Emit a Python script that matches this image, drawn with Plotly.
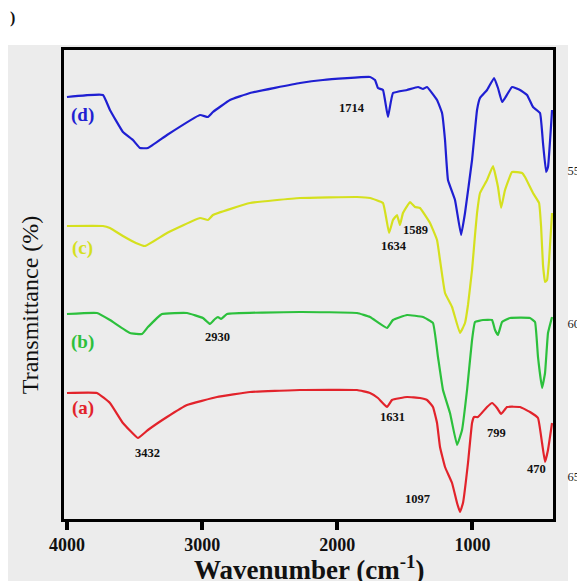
import plotly.graph_objects as go

# ---- data (transmittance in arbitrary offset units) ----
wn_d = [4000, 3734, 3682, 3586, 3512, 3460, 3401, 3260, 3016, 2957, 2920, 2794, 2646, 2276, 2106,
        1758, 1721, 1699, 1662, 1625, 1588, 1484, 1403, 1366, 1336, 1262, 1225, 1203, 1181, 1129,
        1084, 1055, 1003, 966, 944, 892, 840, 811, 781, 759, 707, 648, 596, 552, 500, 478, 455, 441, 411]
t_d = [84.4, 84.8, 81.8, 77.4, 75.8, 74.2, 74.2, 76.8, 80.8, 80.4, 81.4, 83.8, 85.2, 87.2, 87.8,
       88.4, 87.8, 86.2, 85.8, 80.4, 85.2, 85.8, 86.4, 86.0, 86.4, 83.8, 81.2, 75.8, 67.8, 63.8,
       56.8, 61.2, 71.8, 81.8, 84.2, 85.8, 88.2, 86.2, 83.4, 84.2, 86.4, 85.8, 84.8, 82.4, 81.2, 75.2, 69.4, 70.4, 81.8]

wn_c = [4000, 3734, 3682, 3586, 3490, 3423, 3260, 3016, 2957, 2920, 2646, 2276, 1854, 1758, 1662,
        1617, 1588, 1558, 1536, 1514, 1462, 1425, 1388, 1314, 1262, 1240, 1203, 1151, 1092, 1055,
        1033, 1003, 981, 966, 944, 892, 848, 811, 788, 759, 707, 633, 611, 552, 507, 492, 478, 463, 448, 433, 411]
t_c = [58.6, 58.6, 58.2, 56.6, 55.2, 54.6, 57.2, 60.2, 59.8, 60.8, 63.2, 64.2, 64.4, 64.2, 63.2,
       57.2, 59.8, 60.8, 58.8, 61.2, 63.4, 62.4, 62.2, 59.2, 55.8, 51.8, 45.2, 42.4, 37.2, 39.2,
       42.8, 49.8, 56.8, 61.2, 65.2, 67.8, 70.6, 66.4, 62.2, 65.8, 69.4, 69.2, 68.4, 65.2, 63.2, 58.4, 50.8, 47.4, 47.8, 51.8, 61.2]

wn_b = [4000, 3778, 3682, 3534, 3445, 3401, 3297, 3112, 2994, 2942, 2905, 2883, 2860, 2816, 2276,
        1854, 1758, 1632, 1588, 1484, 1366, 1292, 1255, 1218, 1166, 1114, 1077, 1040, 1003, 981,
        922, 855, 833, 811, 781, 722, 574, 537, 515, 485, 463, 441, 411]
t_b = [41.0, 41.2, 39.8, 37.2, 37.0, 38.4, 41.0, 41.2, 40.2, 39.0, 40.0, 40.4, 40.0, 41.0, 41.4,
       41.2, 40.4, 38.2, 39.8, 40.8, 40.4, 39.2, 32.4, 25.8, 21.2, 14.8, 17.8, 25.8, 35.8, 39.4,
       39.8, 39.8, 37.8, 36.8, 39.4, 40.2, 40.2, 39.4, 32.4, 26.2, 29.2, 37.2, 40.4]

wn_a = [4000, 3778, 3682, 3586, 3475, 3401, 3260, 3112, 2890, 2646, 2276, 1854, 1758, 1699, 1632,
        1595, 1484, 1388, 1336, 1292, 1262, 1240, 1203, 1151, 1114, 1092, 1070, 1033, 1003, 988,
        959, 892, 855, 818, 788, 744, 648, 574, 515, 485, 463, 441, 411]
t_a = [25.2, 25.2, 23.2, 19.2, 16.2, 17.8, 20.4, 22.8, 24.4, 25.4, 25.8, 25.8, 25.2, 24.2, 22.4,
       23.8, 24.4, 24.2, 23.8, 22.4, 19.2, 14.4, 10.4, 7.2, 3.2, 1.4, 3.2, 11.2, 19.2, 20.4,
       20.4, 22.4, 23.2, 22.2, 21.0, 22.4, 22.4, 21.4, 20.2, 15.2, 11.4, 13.8, 19.2]

series_names = ["(d)", "(c)", "(b)", "(a)"]
series_colors = ["#1f1fd2", "#d5e01e", "#2cc03c", "#e2232b"]
label_t = [80.8, 54.2, 35.4, 22.2]
label_wn = 3882

peak_labels = ["1714", "1634", "1589", "2930", "3432", "1631", "799", "470", "1097"]
peak_wn = [1891, 1580, 1425, 2890, 3401, 1595, 825, 529, 1410]
peak_t = [82.2, 54.6, 57.8, 36.4, 13.2, 20.4, 17.2, 10.0, 4.0]

x_ticks = [4000, 3000, 2000, 1000]
right_ticks = [55, 60, 65]

SERIF = "Liberation Serif"

fig = go.Figure()
for wn, t, name, col in zip([wn_d, wn_c, wn_b, wn_a], [t_d, t_c, t_b, t_a], series_names, series_colors):
    fig.add_trace(go.Scatter(x=wn, y=t, mode="lines", name=name,
                             line=dict(color=col, width=2.2, shape="spline", smoothing=0.3),
                             showlegend=False, hoverinfo="skip"))
fig.add_trace(go.Scatter(x=[None], y=[None], yaxis="y2", showlegend=False, hoverinfo="skip"))

annotations = []
for name, col, t in zip(series_names, series_colors, label_t):
    annotations.append(dict(x=label_wn, y=t, xref="x", yref="y", text=f"<b>{name}</b>",
                            showarrow=False, font=dict(family=SERIF, size=19, color=col)))
for lab, w, t in zip(peak_labels, peak_wn, peak_t):
    annotations.append(dict(x=w, y=t, xref="x", yref="y", text=f"<b>{lab}</b>",
                            showarrow=False, font=dict(family=SERIF, size=12.5, color="#111")))
annotations.append(dict(x=0.5, y=-0.104, xref="paper", yref="paper",
                        text="<b>Wavenumber (cm<sup>-1</sup>)</b>", showarrow=False,
                        xanchor="center", yanchor="middle",
                        font=dict(family=SERIF, size=27, color="#111")))
annotations.append(dict(x=-0.0695, y=0.456, xref="paper", yref="paper",
                        text="Transmittance (%)", showarrow=False, textangle=-90,
                        xanchor="center", yanchor="middle",
                        font=dict(family=SERIF, size=24, color="#111")))
annotations.append(dict(x=-0.1145, y=1.068, xref="paper", yref="paper", text="<b>)</b>",
                        showarrow=False, xanchor="left", yanchor="middle",
                        font=dict(family=SERIF, size=16, color="#111")))

fig.update_layout(
    width=577, height=573,
    margin=dict(l=56, r=32, t=42, b=62),
    paper_bgcolor="white",
    plot_bgcolor="#ececec",
    shapes=[dict(type="rect", xref="paper", yref="paper", x0=-0.1166, x1=1.0307,
                 y0=-0.132, y1=1.0107, fillcolor="#ececec", line=dict(width=0), layer="below")],
    xaxis=dict(range=[4022, 404], tickvals=x_ticks, ticktext=[str(v) for v in x_ticks],
               ticks="outside", ticklen=8, tickwidth=4, tickcolor="black",
               showline=True, linecolor="black", linewidth=2.5, mirror=True,
               showgrid=False, zeroline=False, automargin=False,
               tickfont=dict(family=SERIF, size=18, color="#111", weight="bold")),
    yaxis=dict(range=[0, 93.8], showticklabels=False, ticks="",
               showline=True, linecolor="black", linewidth=2.5, mirror=True,
               showgrid=False, zeroline=False, automargin=False),
    yaxis2=dict(overlaying="y", side="right", range=[66.37, 51.05], tickvals=right_ticks,
                ticktext=[str(v) for v in right_ticks], ticks="outside", ticklen=11,
                tickcolor="rgba(0,0,0,0)", showline=False, showgrid=False, zeroline=False,
                automargin=False,
                tickfont=dict(family=SERIF, size=12.5, color="#222")),
    annotations=annotations,
)

fig.write_html("out.html")
